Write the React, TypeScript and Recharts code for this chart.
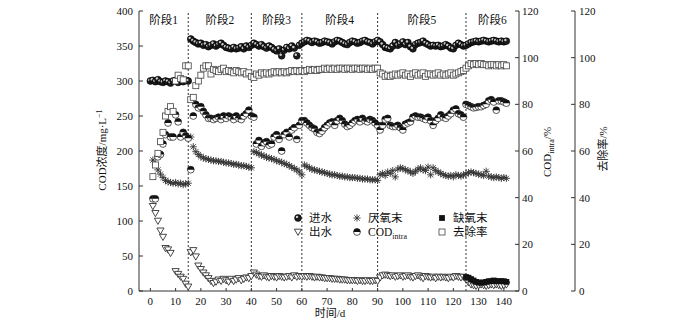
import React from 'react';
import { ComposedChart, Scatter, XAxis, YAxis, ReferenceLine, ReferenceArea } from 'recharts';

const FONT = "'Liberation Serif', 'Times New Roman', 'Noto Sans CJK SC', serif";
const INK = '#111';
const AXIS = '#333';

// ---- axes / categories ----
const xTicks = [0, 10, 20, 30, 40, 50, 60, 70, 80, 90, 100, 110, 120, 130, 140];
const leftTicks = [0, 50, 100, 150, 200, 250, 300, 350, 400];
const pctTicks = [0, 20, 40, 60, 80, 100, 120];
const stageBounds = [-4.5, 15, 40, 60, 90, 125, 146];
const stageNames = ['阶段1', '阶段2', '阶段3', '阶段4', '阶段5', '阶段6'];

// ---- series values (daily) ----
const influentStart = 0;
const influent = [
  300, 301, 299, 302, 299, 298, 300, 299, 297, 300, 301, 298, 300, 299, 301, 300,
  360, 357, 355, 353, 354, 351, 352, 349, 351, 353, 350, 352, 354, 351, 348, 347, 346, 348, 346, 347, 349, 346, 350, 348, 351,
  354, 352, 350, 352, 349, 347, 350, 348, 345, 343, 346, 336, 344, 348, 346, 350, 347, 336, 351, 354,
  356, 358, 357, 355, 357, 356, 354, 355, 357, 356, 355, 353, 356, 358, 357, 355, 353, 352, 355, 357, 356, 354, 355, 357, 358, 356, 355, 353, 356, 358,
  356, 352, 348, 347, 346, 350, 355, 351, 353, 356, 352, 355, 349, 346, 352, 354, 355, 357, 354, 352, 350, 351, 350, 351, 349, 350, 352, 350, 347, 346, 351, 354, 352, 350,
  351, 353, 355, 356, 357, 356, 357, 358, 357, 356, 357, 358, 357, 356, 357, 356, 357,
];

const effluentStart = 1;
const effluent: (number | null)[] = [
  121, 111, 100, 86, 77, 61, 59, 54, null, 28, 24, 20, 17, 10, 6,
  55, 58, 49, 36, 31, 26, 22, 18, 14, 11, 13, 16, 14, 17, 15, 13, 17, 14, 16, 18, 15, 17, 19, 18, 21,
  26, 23, 21, 20, 22, 20, 19, 21, 20, 19, 21, 20, 19, 20, 21, 19, 22, 20, 21, 20,
  21, 20, 21, 20, 19, 20, 19, 19, 18, 18, 18, 17, 17, 17, 16, 16, 16, 15, 15, 15, 15, 14, 15, 14, 14, 15, 14, 14, 15, 14,
  19, 22, 23, 22, 21, 22, 20, 21, 22, 20, 21, 22, 20, 19, 21, 22, 20, 18, 21, 20, 19, 20, 18, 20, 19, 20, 19, 18, 20, 19, 21, 20, 19, 20,
  16, 12, 9, 8, 7, 8, 9, 8, 7, 8, 9, 8, 9, 8, 7, 8, 9,
];

const anaerobicStart = 1;
const anaerobic = [
  187, 181, 173, 167, 162, 158, 156, 155, 154, 155, 153, 154, 152, 153, 154,
  220, 206, 199, 195, 192, 190, 189, 188, 187, 186, 186, 185, 185, 184, 183, 183, 182, 181, 181, 180, 179, 179, 178, 177, 176,
  199, 198, 196, 194, 193, 191, 190, 189, 188, 186, 185, 184, 182, 181, 179, 177, 175, 173, 170, 166,
  180, 178, 176, 174, 173, 172, 171, 170, 169, 168, 167, 166, 166, 165, 164, 164, 163, 163, 162, 162, 162, 161, 161, 160, 160, 160, 159, 159, 159, 158,
  166, 168, 165, 170, 168, 172, 163, 174, 176, 175, 173, 172, 170, 168, 171, 174, 176, 173, 172, 177, 166, 176, 172, 170, 168, 166, 165, 164, 165, 163, 166, 165, 164, 166,
  167, 169, 170, 169, 168, 167, 166, 165, 171, 164, 163, 162, 163, 162, 161, 162, 161,
];

const codIntraStart = 1;
const codIntra = [
  39.5, 39.5, 57.5, 58.5, 63, 67, 72, 66, 66, 75.5, 72.5, 66, 68, 66.5, 65.5,
  52, 75, 80, 78.5, 79, 77, 75.5, 74, 74, 73.5, 74, 74.5, 73.5, 75, 74, 75, 74.5, 73.5, 75, 74, 73.5, 75, 76, 77.5, 75,
  74.5, 63, 64.5, 62, 63.5, 64, 62.5, 63, 66, 67, 65, 60, 67, 68, 66, 69, 70, 65, 71, 73,
  73, 72, 71, 70, 69.5, 68, 67.5, 68.5, 70, 71, 72, 72.5, 71, 73, 74, 73, 71.5, 70.5, 71, 72, 73, 73.5, 72.5, 74, 73, 72.5, 73.5, 73, 72, 71,
  69, 71, 73.5, 74, 71, 70.5, 70.5, 71, 70, 69, 71.5, 72, 72.5, 74.5, 75, 74.5, 74.5, 74, 73.5, 74.5, 73, 71, 73, 74, 75.5, 74.5, 74, 75, 76, 77.5, 78, 76, 75.5, 74.5,
  80, 79.5, 79, 78.5, 78.7, 79, 79, 79.5, 80, 81.5, 82, 81, 77.5, 81.5, 81.5, 81, 80.5,
];

const anoxicStart = 125;
const anoxic = [20, 19, 17, 15, 13, 12, 12, 12, 13, 14, 14, 15, 14, 14, 14, 14, 13];

const removalStart = 1;
const removal = [
  49, 54, 59, 64, 68, 75, 77, 79, 77, 90, 92.5, 91, 90.5, 96.5, 96.5,
  82, 83, 88, 90, 92.5, 95.5, 96.5, 96.5, 93, 95, 94.5, 94, 95, 95.5, 94, 94.5, 94, 93.5, 94.5, 94, 93.5, 94, 93, 93.5, 92,
  91.5, 93, 92.5, 93.5, 93, 93.5, 93, 93.5, 94, 93.5, 94, 93.5, 94, 93.5, 94, 94.5, 94, 94.5, 94, 94.5,
  94, 94.5, 95, 94.5, 95, 94.5, 95, 95, 95.5, 95, 95.5, 95, 95.5, 95, 95.5, 95.5, 95, 95.5, 95.5, 95, 95.5, 95.5, 95, 95.5, 95.5, 95, 95.5, 95, 95.5, 95.5,
  93.5, 93, 92, 92.5, 92, 92.5, 93, 92.5, 93, 93.5, 92.5, 93, 92, 93, 93.5, 92.5, 93, 93.5, 92, 93, 93, 92.5, 93, 93.5, 92.5, 93, 92.5, 93, 93.5, 92.5, 93, 93.5, 94, 94.5,
  95.5, 96.5, 97.5, 97, 97.5, 97, 97.5, 97, 97, 96.5, 97, 97, 96.5, 97, 96.5, 97, 96.5,
];

function toPoints(start: number, vals: (number | null)[]) {
  return vals
    .map((v, i) => ({ x: start + i, y: v }))
    .filter((d) => d.y !== null && d.y !== undefined);
}

const influentPts = toPoints(influentStart, influent);
const effluentPts = toPoints(effluentStart, effluent);
const anaerobicPts = toPoints(anaerobicStart, anaerobic);
const codIntraPts = toPoints(codIntraStart, codIntra);
const anoxicPts = toPoints(anoxicStart, anoxic);
const removalPts = toPoints(removalStart, removal);

// ---- marker shapes ----
const Sphere = (p: any) => {
  const { cx, cy } = p;
  if (cx == null || cy == null) return null;
  return (
    <g>
      <circle cx={cx} cy={cy} r={3.4} fill="#1c1c1c" stroke="#000" strokeWidth={0.6} />
      <circle cx={cx - 1} cy={cy - 1.1} r={1.2} fill="#d0d0d0" />
    </g>
  );
};
const TriDown = (p: any) => {
  const { cx, cy } = p;
  if (cx == null || cy == null) return null;
  return (
    <path
      d={`M${cx - 3.6},${cy - 2.8}L${cx + 3.6},${cy - 2.8}L${cx},${cy + 3.4}Z`}
      fill="#fff"
      stroke="#333"
      strokeWidth={0.9}
    />
  );
};
const Star = (p: any) => {
  const { cx, cy } = p;
  if (cx == null || cy == null) return null;
  const r = 3.6;
  const d = 2.6;
  return (
    <path
      d={`M${cx - r},${cy}H${cx + r}M${cx},${cy - r}V${cy + r}M${cx - d},${cy - d}L${cx + d},${cy + d}M${cx - d},${cy + d}L${cx + d},${cy - d}`}
      stroke="#333"
      strokeWidth={0.9}
      fill="none"
    />
  );
};
const HalfCircle = (p: any) => {
  const { cx, cy } = p;
  if (cx == null || cy == null) return null;
  const r = 3.4;
  return (
    <g>
      <circle cx={cx} cy={cy} r={r} fill="#fff" stroke="#111" strokeWidth={0.7} />
      <path d={`M${cx - r},${cy} A${r},${r} 0 0 1 ${cx + r},${cy} Z`} fill="#111" />
    </g>
  );
};
const SolidSquare = (p: any) => {
  const { cx, cy } = p;
  if (cx == null || cy == null) return null;
  return <rect x={cx - 2.9} y={cy - 2.9} width={5.8} height={5.8} fill="#111" />;
};
const OpenSquare = (p: any) => {
  const { cx, cy } = p;
  if (cx == null || cy == null) return null;
  return <rect x={cx - 3} y={cy - 3} width={6} height={6} fill="#fff" stroke="#444" strokeWidth={0.8} />;
};

const tickStyle = { fontSize: 11, fill: INK, fontFamily: FONT };

const legendItems = [
  { label: '进水', Shape: Sphere, x: 298, y: 218 },
  { label: '出水', Shape: TriDown, x: 298, y: 232 },
  { label: '厌氧末', Shape: Star, x: 357, y: 218 },
  { label: 'COD', sub: 'intra', Shape: HalfCircle, x: 357, y: 232 },
  { label: '缺氧末', Shape: SolidSquare, x: 442, y: 218 },
  { label: '去除率', Shape: OpenSquare, x: 442, y: 232 },
];

export default function App() {
  return (
    <div style={{ position: 'relative', width: 700, height: 325, background: '#fff' }}>
      <style>{'body{margin:0;}'}</style>
      <ComposedChart width={700} height={325} margin={{ top: 11, right: 64, bottom: 0, left: 0 }}>
        <XAxis
          xAxisId="top"
          orientation="top"
          type="number"
          dataKey="x"
          domain={[-4.5, 146]}
          allowDataOverflow
          height={0}
          tick={false}
          tickLine={false}
          axisLine={{ stroke: AXIS }}
        />
        <XAxis
          xAxisId="b"
          type="number"
          dataKey="x"
          domain={[-4.5, 146]}
          allowDataOverflow
          ticks={xTicks}
          height={34}
          tickSize={-3}
          tickMargin={9}
          tick={tickStyle}
          axisLine={{ stroke: AXIS }}
          tickLine={{ stroke: AXIS }}
        />
        <YAxis
          yAxisId="L"
          dataKey="y"
          domain={[0, 400]}
          ticks={leftTicks}
          width={139}
          tickSize={-4}
          tickMargin={10}
          tick={tickStyle}
          axisLine={{ stroke: AXIS }}
          tickLine={{ stroke: AXIS }}
        />
        <YAxis
          yAxisId="C"
          orientation="right"
          dataKey="y"
          domain={[0, 120]}
          ticks={pctTicks}
          width={56}
          tickSize={-4}
          tickMargin={7}
          tick={{ ...tickStyle, textAnchor: 'start' }}
          axisLine={{ stroke: AXIS }}
          tickLine={{ stroke: AXIS }}
        />
        <YAxis
          yAxisId="R"
          orientation="right"
          dataKey="y"
          domain={[0, 120]}
          ticks={pctTicks}
          width={61}
          tickSize={-4}
          tickMargin={8}
          tick={{ ...tickStyle, textAnchor: 'start' }}
          axisLine={{ stroke: AXIS }}
          tickLine={{ stroke: AXIS }}
        />
        {stageNames.map((name, i) => (
          <ReferenceArea
            key={name}
            xAxisId="b"
            yAxisId="L"
            x1={stageBounds[i]}
            x2={stageBounds[i + 1]}
            fill="none"
            fillOpacity={0}
            stroke="none"
            ifOverflow="hidden"
            label={{ value: name, position: 'insideTop', offset: 5, fontSize: 11.5, fill: INK, fontFamily: FONT }}
          />
        ))}
        {stageBounds.slice(1, -1).map((b) => (
          <ReferenceLine key={b} xAxisId="b" yAxisId="L" x={b} stroke="#333" strokeDasharray="2 2" strokeWidth={1} />
        ))}
        <Scatter data={influentPts} xAxisId="b" yAxisId="L" dataKey="y" shape={Sphere} isAnimationActive={false} />
        <Scatter data={effluentPts} xAxisId="b" yAxisId="L" dataKey="y" shape={TriDown} isAnimationActive={false} />
        <Scatter data={anaerobicPts} xAxisId="b" yAxisId="L" dataKey="y" shape={Star} isAnimationActive={false} />
        <Scatter data={codIntraPts} xAxisId="b" yAxisId="C" dataKey="y" shape={HalfCircle} isAnimationActive={false} />
        <Scatter data={anoxicPts} xAxisId="b" yAxisId="L" dataKey="y" shape={SolidSquare} isAnimationActive={false} />
        <Scatter data={removalPts} xAxisId="b" yAxisId="R" dataKey="y" shape={OpenSquare} isAnimationActive={false} />
      </ComposedChart>
      <svg
        width={700}
        height={325}
        style={{ position: 'absolute', left: 0, top: 0, pointerEvents: 'none' }}
        fontFamily={FONT}
        fill={INK}
      >
        <text transform="translate(105.5,150) rotate(-90)" textAnchor="middle" fontSize={11}>
          COD浓度/mg·L<tspan dy={-4} fontSize={8}>−1</tspan>
        </text>
        <text transform="translate(551,152) rotate(-90)" textAnchor="middle" fontSize={11}>
          COD<tspan dy={3} fontSize={8}>intra</tspan><tspan dy={-3}>/%</tspan>
        </text>
        <text transform="translate(606.5,149) rotate(-90)" textAnchor="middle" fontSize={11}>
          去除率/%
        </text>
        <text x={330} y={317} textAnchor="middle" fontSize={11}>
          时间/d
        </text>
        {legendItems.map((it) => (
          <g key={it.label + (it.sub || '')}>
            <it.Shape cx={it.x} cy={it.y} />
            <text x={it.x + 11} y={it.y + 4} fontSize={11.5}>
              {it.label}
              {it.sub ? <tspan dy={3} fontSize={8}>{it.sub}</tspan> : null}
            </text>
          </g>
        ))}
      </svg>
    </div>
  );
}
